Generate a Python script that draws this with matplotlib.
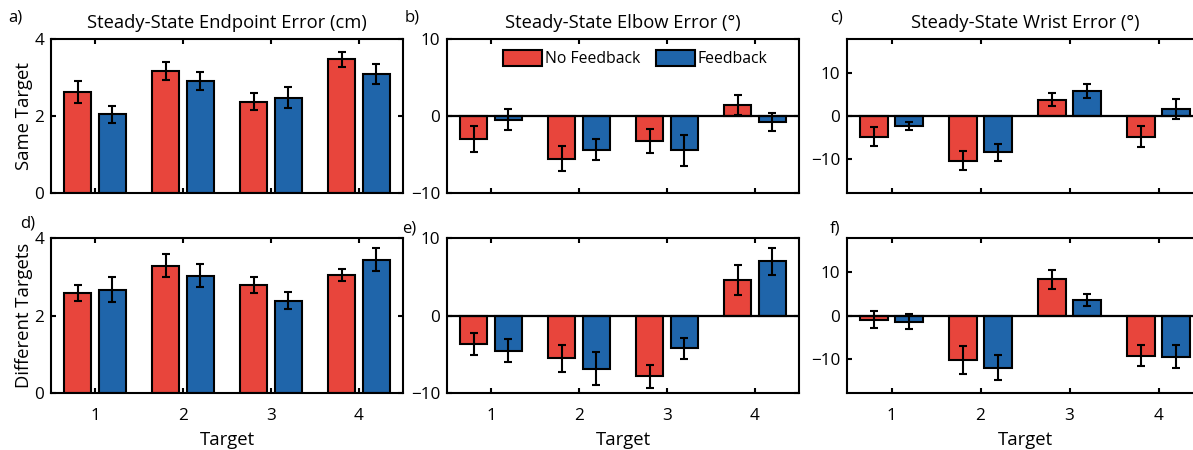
import matplotlib
matplotlib.use("Agg")
import matplotlib.pyplot as plt
import numpy as np

plt.rcParams['font.family'] = ['Open Sans', 'DejaVu Sans']

targets = [1, 2, 3, 4]
series_names = ["No Feedback", "Feedback"]

# Row 1: Same Target
endpoint_same_nf = [2.63, 3.17, 2.37, 3.47]
endpoint_same_nf_err = [0.28, 0.23, 0.22, 0.19]
endpoint_same_fb = [2.04, 2.91, 2.48, 3.08]
endpoint_same_fb_err = [0.21, 0.23, 0.27, 0.26]

elbow_same_nf = [-2.94, -5.54, -3.25, 1.47]
elbow_same_nf_err = [1.7, 1.65, 1.5, 1.3]
elbow_same_fb = [-0.48, -4.37, -4.46, -0.78]
elbow_same_fb_err = [1.4, 1.4, 2.0, 1.2]

wrist_same_nf = [-4.85, -10.46, 3.85, -4.85]
wrist_same_nf_err = [2.2, 2.2, 1.6, 2.4]
wrist_same_fb = [-2.38, -8.46, 5.92, 1.54]
wrist_same_fb_err = [0.9, 1.95, 1.6, 2.35]

# Row 2: Different Targets
endpoint_diff_nf = [2.58, 3.29, 2.79, 3.05]
endpoint_diff_nf_err = [0.2, 0.3, 0.2, 0.15]
endpoint_diff_fb = [2.67, 3.03, 2.38, 3.44]
endpoint_diff_fb_err = [0.33, 0.29, 0.22, 0.29]

elbow_diff_nf = [-3.66, -5.5, -7.87, 4.6]
elbow_diff_nf_err = [1.45, 1.75, 1.5, 1.9]
elbow_diff_fb = [-4.52, -6.88, -4.22, 6.97]
elbow_diff_fb_err = [1.45, 2.15, 1.35, 1.72]

wrist_diff_nf = [-1.0, -10.3, 8.45, -9.38]
wrist_diff_nf_err = [2.0, 3.25, 2.2, 2.45]
wrist_diff_fb = [-1.4, -12.1, 3.64, -9.53]
wrist_diff_fb_err = [1.85, 2.9, 1.4, 2.7]

titles = ["Steady-State Endpoint Error (cm)", "Steady-State Elbow Error (\u00b0)",
          "Steady-State Wrist Error (\u00b0)"]
row_labels = ["Same Target", "Different Targets"]
panel_letters = ["a)", "b)", "c)", "d)", "e)", "f)"]

RED = "#E8453C"
BLUE = "#1F65AA"

W, H = 1193, 450
fig = plt.figure(figsize=(W / 100, H / 100), dpi=100)

col_left = [51, 447, 847]
col_w = [352, 352, 356]
row_top = [39, 238]
row_h = [154, 155]

data = [
    [(endpoint_same_nf, endpoint_same_nf_err, endpoint_same_fb, endpoint_same_fb_err),
     (elbow_same_nf, elbow_same_nf_err, elbow_same_fb, elbow_same_fb_err),
     (wrist_same_nf, wrist_same_nf_err, wrist_same_fb, wrist_same_fb_err)],
    [(endpoint_diff_nf, endpoint_diff_nf_err, endpoint_diff_fb, endpoint_diff_fb_err),
     (elbow_diff_nf, elbow_diff_nf_err, elbow_diff_fb, elbow_diff_fb_err),
     (wrist_diff_nf, wrist_diff_nf_err, wrist_diff_fb, wrist_diff_fb_err)],
]
ylims = [(0, 4), (-10, 10), (-18, 18)]
yticks = [[0, 2, 4], [-10, 0, 10], [-10, 0, 10]]

x = np.array(targets, dtype=float)
off = 0.195
bw = 0.31
fs_tick = 12.3
fs_title = 13.2
fs_label = 13.3
fs_leg = 11.3
fs_letter = 12

for r in range(2):
    for c in range(3):
        l = col_left[c] / W
        b = 1 - (row_top[r] + row_h[r]) / H
        ax = fig.add_axes([l, b, col_w[c] / W, row_h[r] / H])
        nf, nfe, fb, fbe = data[r][c]
        ekw = dict(elinewidth=1.5, capthick=1.5, ecolor='black')
        ax.bar(x - off, nf, bw, color=RED, edgecolor='black', linewidth=1.5,
               yerr=nfe, capsize=3, error_kw=ekw, label=series_names[0], zorder=2)
        ax.bar(x + off, fb, bw, color=BLUE, edgecolor='black', linewidth=1.5,
               yerr=fbe, capsize=3, error_kw=ekw, label=series_names[1], zorder=2)
        if c > 0:
            ax.axhline(0, color='black', linewidth=1.6, zorder=3)
        ax.set_xlim(0.5, 4.5)
        ax.set_ylim(*ylims[c])
        ax.set_yticks(yticks[c])
        ax.set_xticks(targets)
        for s in ax.spines.values():
            s.set_linewidth(1.5)
        right_on = c < 2
        if not right_on:
            ax.spines['right'].set_visible(False)
        ax.tick_params(direction='in', length=3.5, width=1.5, top=True, right=right_on,
                       labelsize=fs_tick)
        ax.tick_params(axis='y', pad=5)
        ax.tick_params(axis='x', pad=10.5)
        if r == 0:
            ax.set_xticklabels([])
            ax.set_title(titles[c], fontsize=fs_title, pad=8)
        else:
            ax.set_xlabel("Target", fontsize=fs_label, labelpad=5)
        if c == 0:
            ax.set_ylabel(row_labels[r], fontsize=fs_label, labelpad=1)
        if r == 0 and c == 1:
            ax.legend(loc='upper center', bbox_to_anchor=(0.535, 0.99), ncol=2, frameon=False,
                      fontsize=fs_leg, handlelength=2.5, handleheight=1.15,
                      handletextpad=0.15, columnspacing=1.0, borderaxespad=0.2)

# panel letters
letter_pos = [(8, 18), (405, 18), (830, 18), (20, 224), (402, 228), (830, 228)]
for (px, py), t in zip(letter_pos, panel_letters):
    fig.text(px / W, 1 - py / H, t, fontsize=fs_letter, ha='left', va='center')

fig.savefig("out.png", dpi=100)
